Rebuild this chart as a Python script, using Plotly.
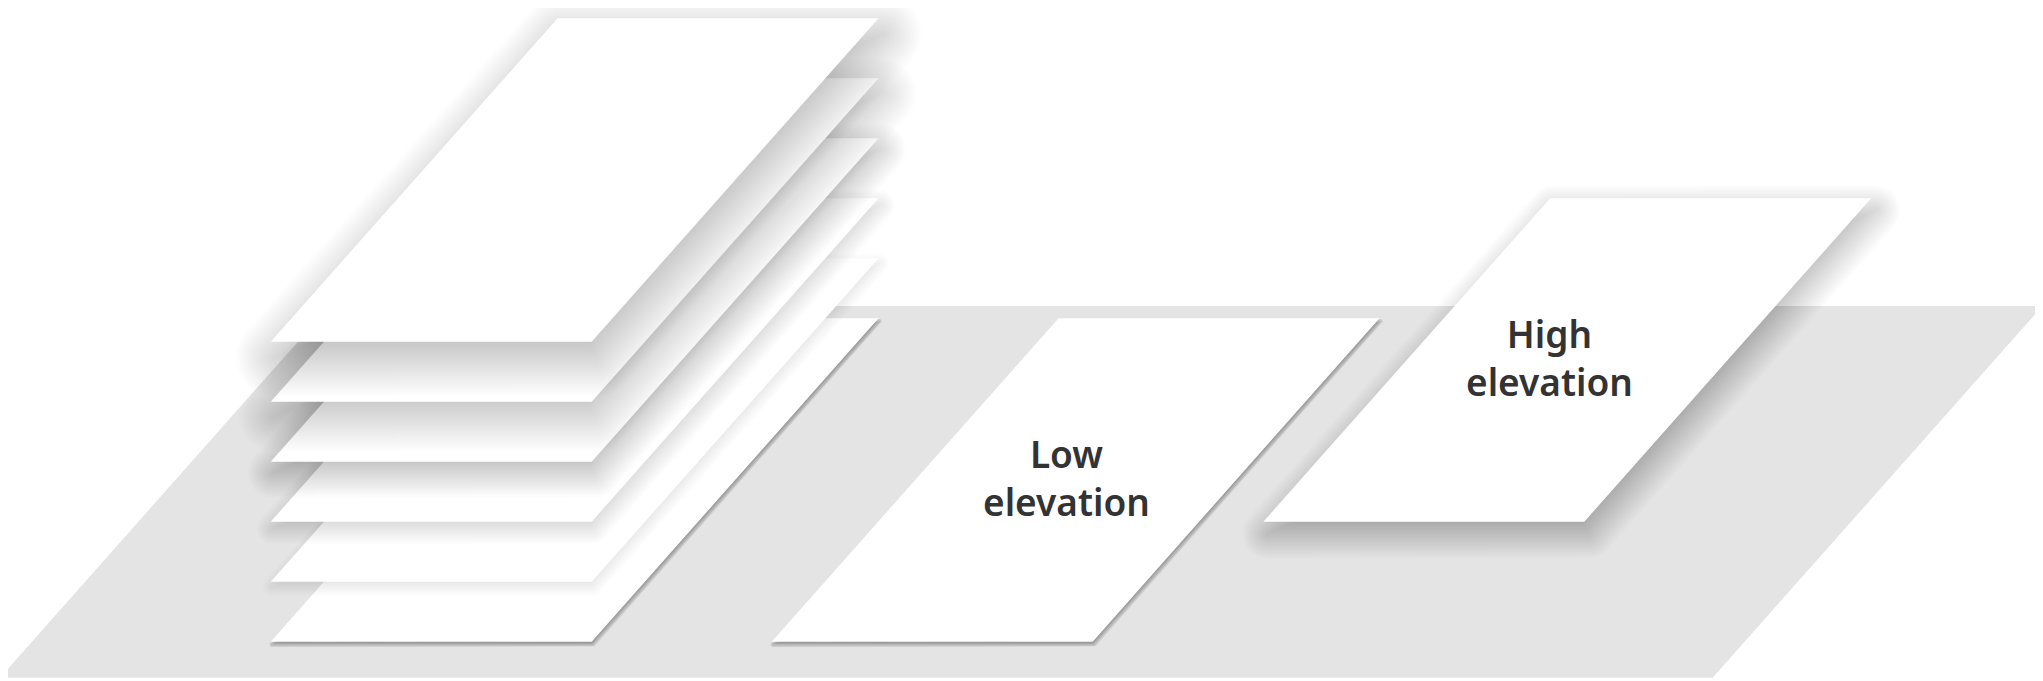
"""Stacked sheets vs low / high elevation diagram."""

import math
import plotly.graph_objects as go

# sheets in the left stack, from the top (0) down to the bottom (5)
stack_levels = [0, 1, 2, 3, 4, 5]
# shadow per stack level: blur, drift right, drop, opacity
stack_blur = [40, 36, 26, 16, 10, 3]
stack_drift = [4, 3, 2, 1, 1, 1]
stack_drop = [16, 15, 11, 7, 5, 3]
stack_alpha = [0.36, 0.34, 0.26, 0.17, 0.13, 0.40]

# the two single sheets on the right
panel_labels = ["Low<br>elevation", "High<br>elevation"]
panel_level = [5, 3]          # height of each sheet, in stack levels
panel_blur = [3, 26]
panel_drift = [1, 4]
panel_drop = [3, 12]
panel_alpha = [0.40, 0.28]

W, H = 2043, 681
PAGE = 8                      # default page margin around the plot
SLANT = 0.887                 # horizontal shift per pixel of height
SHEET_W, SHEET_H = 321, 323.4
STACK_X, STACK_Y, STEP = 270.7, 341.7, 60
PANEL_X = [771.7, 1263.3]
PANEL_TEXT_X = [1066, 1549]
GROUND = dict(x=0, yb=677.7, w=1712.7, h=371.7)
GREY = "#e4e4e4"
K = math.sqrt(1 + SLANT ** 2)


def parallelogram(x0, yb, w, h, g=0.0):
    """Corners of a slanted sheet, shrunk inwards by -g pixels (g <= 0)."""
    xs = [x0 - g * K - SLANT * g,
          x0 + w + g * K - SLANT * g,
          x0 + w + g * K + SLANT * (h + g),
          x0 - g * K + SLANT * (h + g),
          x0 - g * K - SLANT * g]
    ys = [yb + g, yb + g, yb - h - g, yb - h - g, yb + g]
    return xs, ys


def grown(x0, yb, w, h, g, arc=10):
    """Sheet outline grown by g pixels with rounded corners."""
    if g <= 0:
        return parallelogram(x0, yb, w, h, g)
    xs, ys = parallelogram(x0, yb, w, h)
    pts = list(zip(xs[:-1], ys[:-1]))
    cx = sum(p[0] for p in pts) / 4
    cy = sum(p[1] for p in pts) / 4
    normals = []
    for i in range(4):
        (ax, ay), (bx, by) = pts[i], pts[(i + 1) % 4]
        nx, ny = by - ay, -(bx - ax)
        ln = math.hypot(nx, ny)
        nx, ny = nx / ln, ny / ln
        mx, my = (ax + bx) / 2, (ay + by) / 2
        if nx * (mx - cx) + ny * (my - cy) < 0:
            nx, ny = -nx, -ny
        normals.append((nx, ny))
    out_x, out_y = [], []
    for i in range(4):
        px, py = pts[i]
        a0 = math.atan2(normals[i - 1][1], normals[i - 1][0])
        a1 = math.atan2(normals[i][1], normals[i][0])
        d = (a1 - a0 + math.pi) % (2 * math.pi) - math.pi
        for s in range(arc + 1):
            a = a0 + d * s / arc
            out_x.append(px + g * math.cos(a))
            out_y.append(py + g * math.sin(a))
    out_x.append(out_x[0])
    out_y.append(out_y[0])
    return out_x, out_y


def poly(fig, xs, ys, color):
    fig.add_trace(go.Scatter(x=xs, y=ys, mode="lines", fill="toself",
                             fillcolor=color, line=dict(width=0),
                             hoverinfo="skip", showlegend=False))


def sheet(fig, x0, yb, blur, drift, drop, alpha):
    # soft shadow made of stacked translucent copies
    n = max(4, int(blur))
    for j in range(n):
        g = blur * (1 - 2 * (j + 0.5) / n)
        xs, ys = grown(x0 + drift, yb + drop, SHEET_W, SHEET_H, g)
        poly(fig, xs, ys, f"rgba(0,0,0,{alpha / n:.4f})")
    xs, ys = parallelogram(x0, yb, SHEET_W, SHEET_H)
    poly(fig, xs, ys, "white")


fig = go.Figure()

# grey ground
gx, gy = parallelogram(GROUND["x"], GROUND["yb"], GROUND["w"], GROUND["h"])
poly(fig, gx, gy, GREY)

# low / high elevation sheets
for i, lvl in enumerate(panel_level):
    sheet(fig, PANEL_X[i], STACK_Y + STEP * lvl,
          panel_blur[i], panel_drift[i], panel_drop[i], panel_alpha[i])

# the stack, bottom sheet first so upper ones sit on top
for k in reversed(stack_levels):
    sheet(fig, STACK_X, STACK_Y + STEP * k,
          stack_blur[k], stack_drift[k], stack_drop[k], stack_alpha[k])

for i, lvl in enumerate(panel_level):
    yb = STACK_Y + STEP * lvl
    fig.add_annotation(x=PANEL_TEXT_X[i], y=yb - SHEET_H / 2 - 3,
                       text=panel_labels[i], showarrow=False,
                       xanchor="center", yanchor="middle",
                       font=dict(family="Noto Sans", size=37, color="#333333",
                                 weight=600))

# the page adds a margin, so the plot is shifted back to line up with the window
fig.update_xaxes(range=[PAGE, W], visible=False, fixedrange=True)
fig.update_yaxes(range=[H, PAGE], visible=False, fixedrange=True)
fig.update_layout(width=W - PAGE, height=H - PAGE,
                  margin=dict(l=0, r=0, t=0, b=0),
                  paper_bgcolor="white", plot_bgcolor="white")

fig.write_html("out.html")
